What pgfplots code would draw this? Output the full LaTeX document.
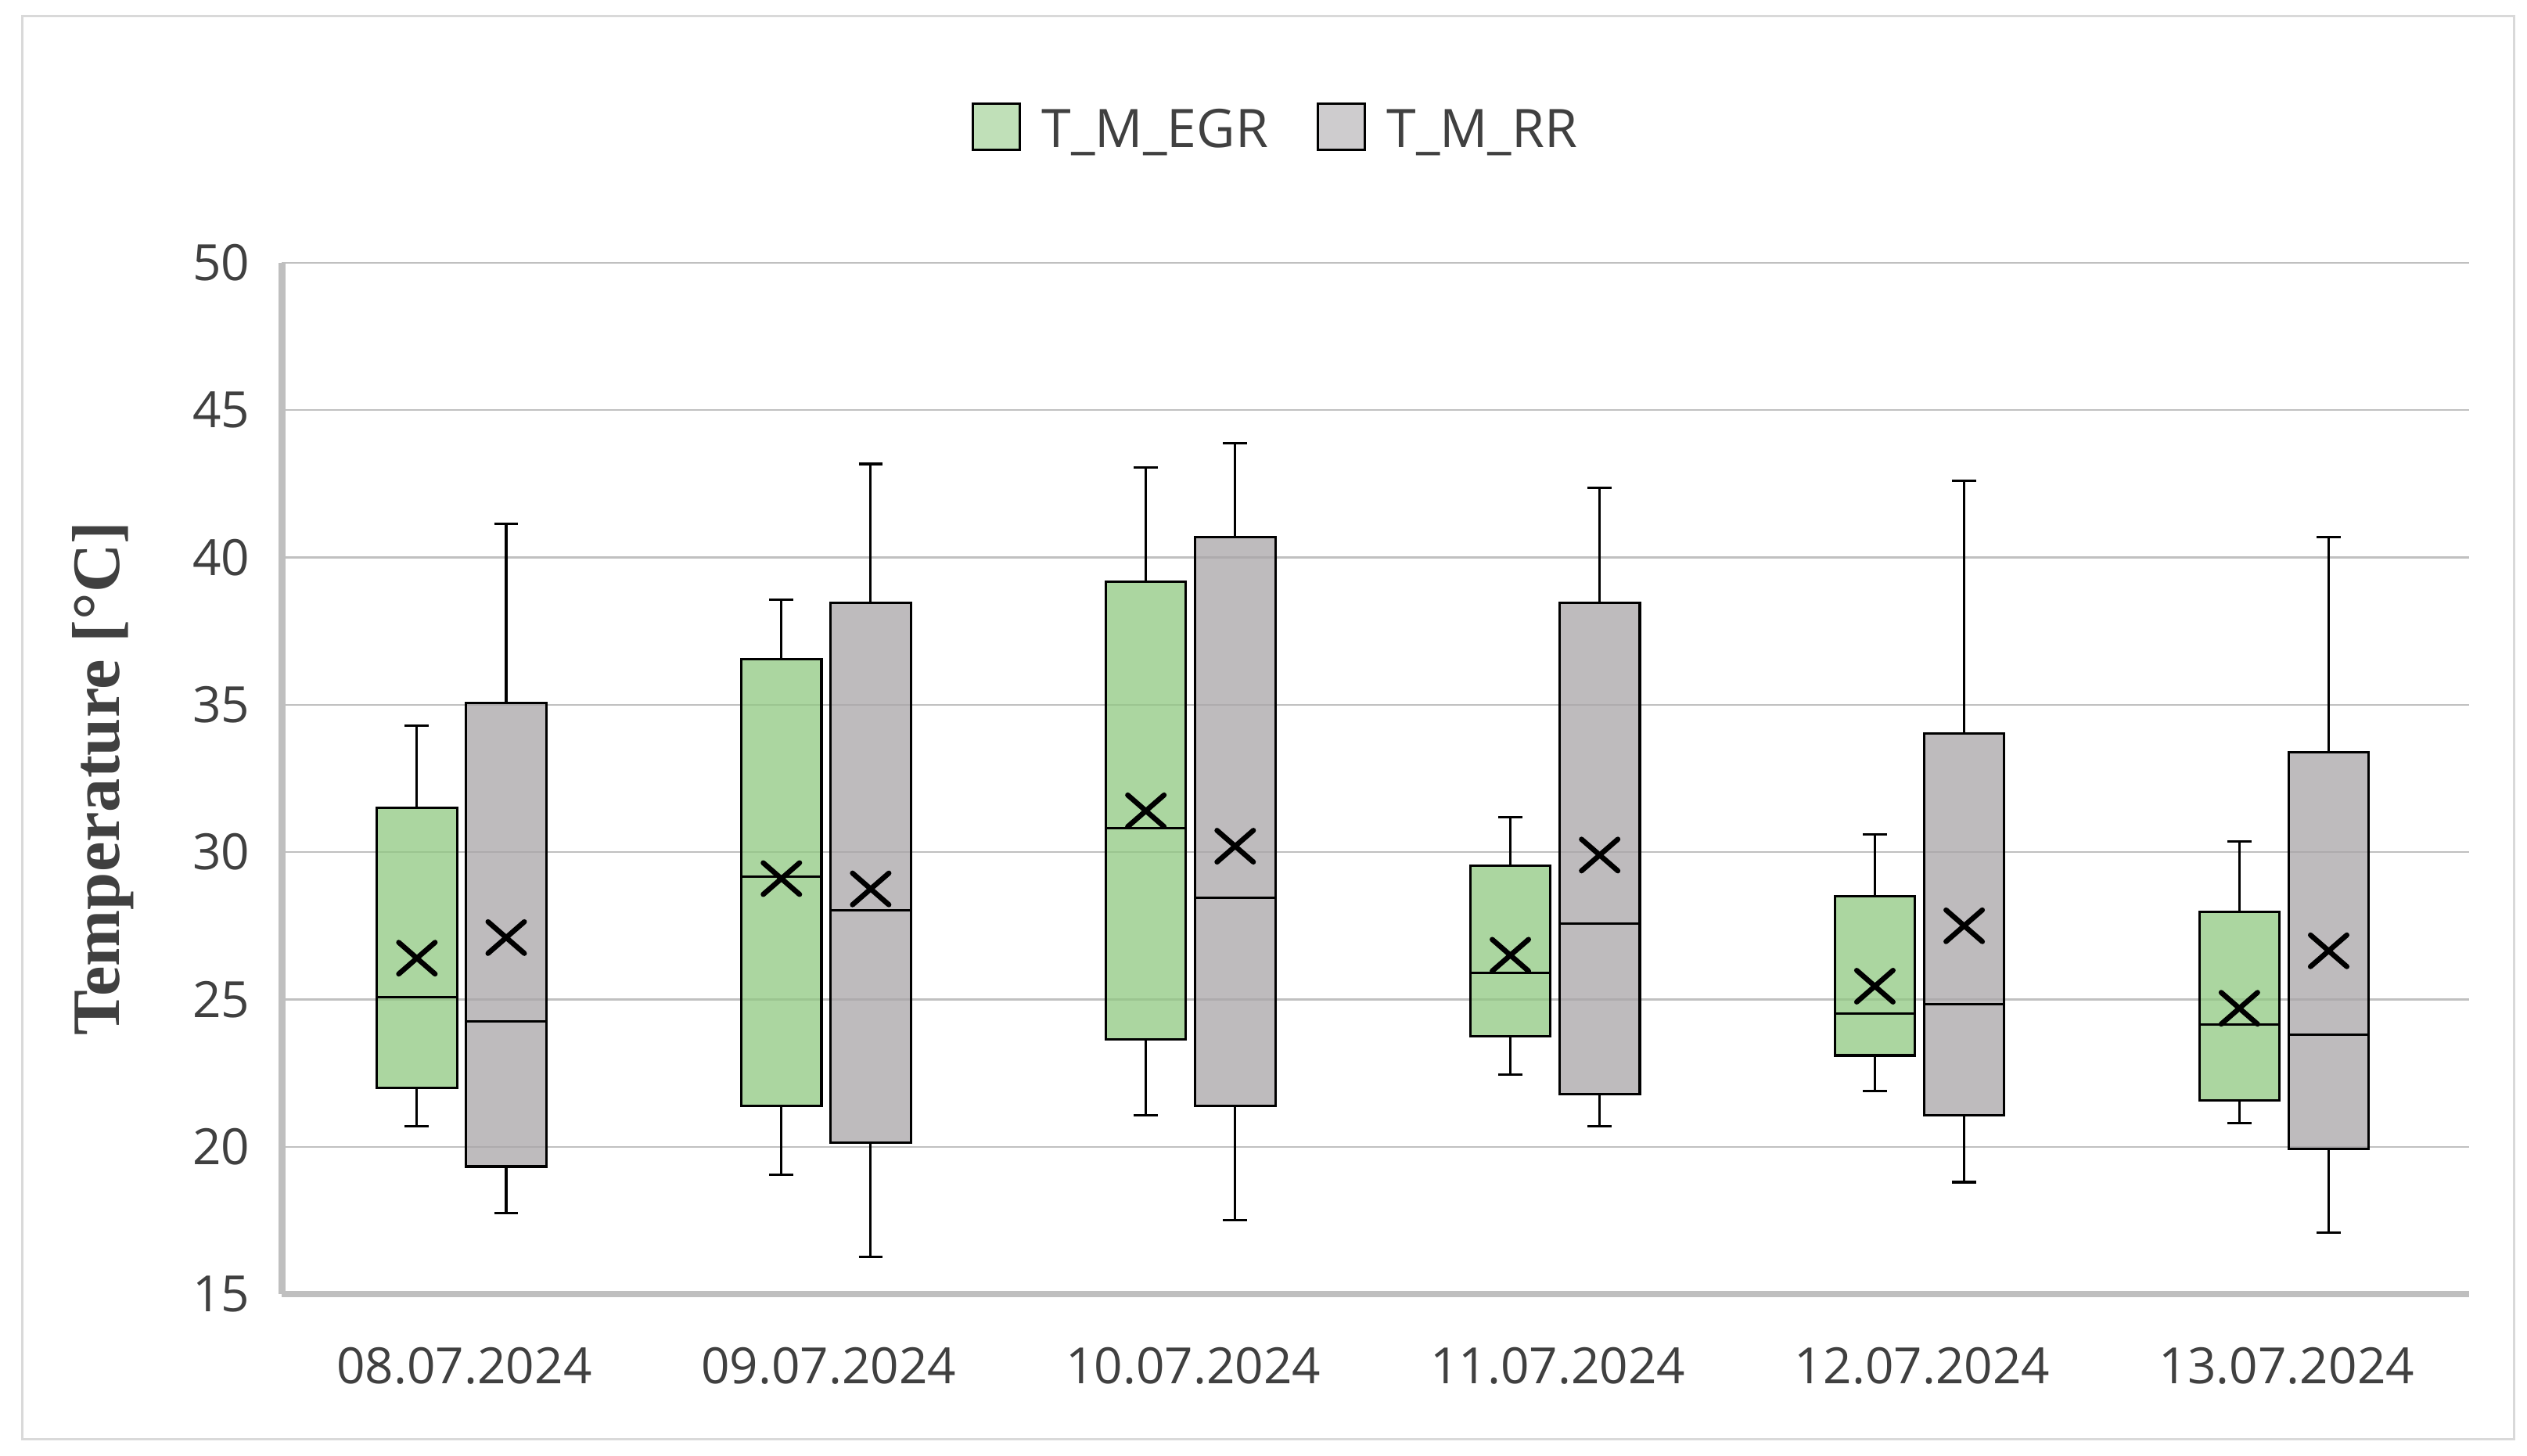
\documentclass[border=0pt]{standalone}
\usepackage{fontspec}
\setmainfont{Open Sans}
\newfontfamily\labelfont{Liberation Serif}
\usepackage{pgfplots}
\pgfplotsset{compat=1.18}
\usepgfplotslibrary{statistics}

\definecolor{egr}{HTML}{8FC880}
\definecolor{rr}{HTML}{A8A4A7}
\definecolor{egrleg}{HTML}{ABD6A0}
\definecolor{rrleg}{HTML}{BEBBBD}
\definecolor{gridc}{HTML}{C0C0C0}
\definecolor{axisc}{HTML}{BFBFBF}
\definecolor{txt}{HTML}{404040}
\definecolor{framec}{HTML}{D9D9D9}

% wide x used for the mean
\pgfdeclareplotmark{widex}{%
  \pgfsetlinewidth{1.6pt}%
  \pgfsetroundcap
  \pgfpathmoveto{\pgfqpoint{-1.15\pgfplotmarksize}{-\pgfplotmarksize}}%
  \pgfpathlineto{\pgfqpoint{1.15\pgfplotmarksize}{\pgfplotmarksize}}%
  \pgfpathmoveto{\pgfqpoint{-1.15\pgfplotmarksize}{\pgfplotmarksize}}%
  \pgfpathlineto{\pgfqpoint{1.15\pgfplotmarksize}{-\pgfplotmarksize}}%
  \pgfusepathqstroke}

\pgfplotsset{
  tbox/.style={
    draw=black, line width=0.75pt, fill opacity=0.75,
    boxplot/draw direction=y,
    boxplot/box extend=0.22,
    boxplot/whisker extend=0.066,
    boxplot/every average/.style={/tikz/mark=widex, /tikz/mark size=4.9pt,
      /tikz/draw=black, /tikz/fill opacity=1},
  },
  egrbox/.style={tbox, fill=egr},
  rrbox/.style={tbox, fill=rr},
}

\begin{document}
\begin{tikzpicture}
\useasboundingbox (0,0) rectangle (784pt,451.5pt);
\draw[framec, line width=0.75pt] (7pt,5pt) rectangle (780pt,446.5pt);
\begin{axis}[
    at={(87.5pt,50pt)}, anchor=south west,
    scale only axis,
    width=678.5pt, height=320pt,
    xmin=-0.5, xmax=5.5,
    ymin=15, ymax=50,
    xtick={0,1,2,3,4,5},
    xticklabels={08.07.2024,09.07.2024,10.07.2024,11.07.2024,12.07.2024,13.07.2024},
    ytick={15,20,25,30,35,40,45,50},
    major tick length=0pt,
    axis x line*=bottom, axis y line*=left,
    axis line style={line width=2pt, draw=axisc},
    ymajorgrids=true,
    grid style={line width=0.6pt, draw=gridc},
    /pgf/number format/assume math mode=true,
    ticklabel style={font=\fontsize{15.5}{18}\selectfont, text=txt},
    xticklabel style={yshift=-13pt},
    yticklabel style={xshift=-6.5pt},
    ylabel={Temperature [°C]},
    ylabel style={at={(axis description cs:-0.0818,0.5)}, anchor=center,
      font=\labelfont\bfseries\fontsize{21}{24}\selectfont, text=txt},
    legend columns=2,
    legend style={draw=none, fill=none,
      at={(axis description cs:0.4554,1.128)}, anchor=center,
      font=\fontsize{16.5}{19}\selectfont, text=txt,
      /tikz/every odd column/.append style={column sep=4.5pt},
      /tikz/every even column/.append style={column sep=13pt}},
]
% 08.07.2024
\addplot[egrbox, boxplot prepared={draw position=-0.13,
    lower whisker=20.7, lower quartile=22.0, median=25.07, average=26.4,
    upper quartile=31.5, upper whisker=34.3},
    legend image code/.code={\draw[draw=black, fill=egrleg, line width=0.75pt] (0pt,-5.95pt) rectangle (14.5pt,8.55pt);}]
    coordinates {};
\addplot[rrbox, boxplot prepared={draw position=0.115,
    lower whisker=17.74, lower quartile=19.33, median=24.25, average=27.1,
    upper quartile=35.07, upper whisker=41.14},
    legend image code/.code={\draw[draw=black, fill=rrleg, line width=0.75pt] (0pt,-5.95pt) rectangle (14.5pt,8.55pt);}]
    coordinates {};
\addlegendentry{T\_M\_EGR}
\addlegendentry{T\_M\_RR}
% 09.07.2024
\addplot[egrbox, forget plot, boxplot prepared={draw position=0.87,
    lower whisker=19.05, lower quartile=21.4, median=29.17, average=29.1,
    upper quartile=36.55, upper whisker=38.57}] coordinates {};
\addplot[rrbox, forget plot, boxplot prepared={draw position=1.115,
    lower whisker=16.27, lower quartile=20.15, median=28.02, average=28.75,
    upper quartile=38.46, upper whisker=43.17}] coordinates {};
% 10.07.2024
\addplot[egrbox, forget plot, boxplot prepared={draw position=1.87,
    lower whisker=21.08, lower quartile=23.65, median=30.81, average=31.4,
    upper quartile=39.17, upper whisker=43.06}] coordinates {};
\addplot[rrbox, forget plot, boxplot prepared={draw position=2.115,
    lower whisker=17.52, lower quartile=21.4, median=28.46, average=30.2,
    upper quartile=40.7, upper whisker=43.88}] coordinates {};
% 11.07.2024
\addplot[egrbox, forget plot, boxplot prepared={draw position=2.87,
    lower whisker=22.44, lower quartile=23.76, median=25.89, average=26.5,
    upper quartile=29.55, upper whisker=31.19}] coordinates {};
\addplot[rrbox, forget plot, boxplot prepared={draw position=3.115,
    lower whisker=20.7, lower quartile=21.79, median=27.58, average=29.9,
    upper quartile=38.46, upper whisker=42.35}] coordinates {};
% 12.07.2024
\addplot[egrbox, forget plot, boxplot prepared={draw position=3.87,
    lower whisker=21.9, lower quartile=23.1, median=24.52, average=25.45,
    upper quartile=28.51, upper whisker=30.59}] coordinates {};
\addplot[rrbox, forget plot, boxplot prepared={draw position=4.115,
    lower whisker=18.8, lower quartile=21.08, median=24.85, average=27.5,
    upper quartile=34.03, upper whisker=42.6}] coordinates {};
% 13.07.2024
\addplot[egrbox, forget plot, boxplot prepared={draw position=4.87,
    lower whisker=20.8, lower quartile=21.57, median=24.14, average=24.7,
    upper quartile=27.97, upper whisker=30.37}] coordinates {};
\addplot[rrbox, forget plot, boxplot prepared={draw position=5.115,
    lower whisker=17.09, lower quartile=19.93, median=23.81, average=26.65,
    upper quartile=33.38, upper whisker=40.7}] coordinates {};
\end{axis}
\end{tikzpicture}
\end{document}
